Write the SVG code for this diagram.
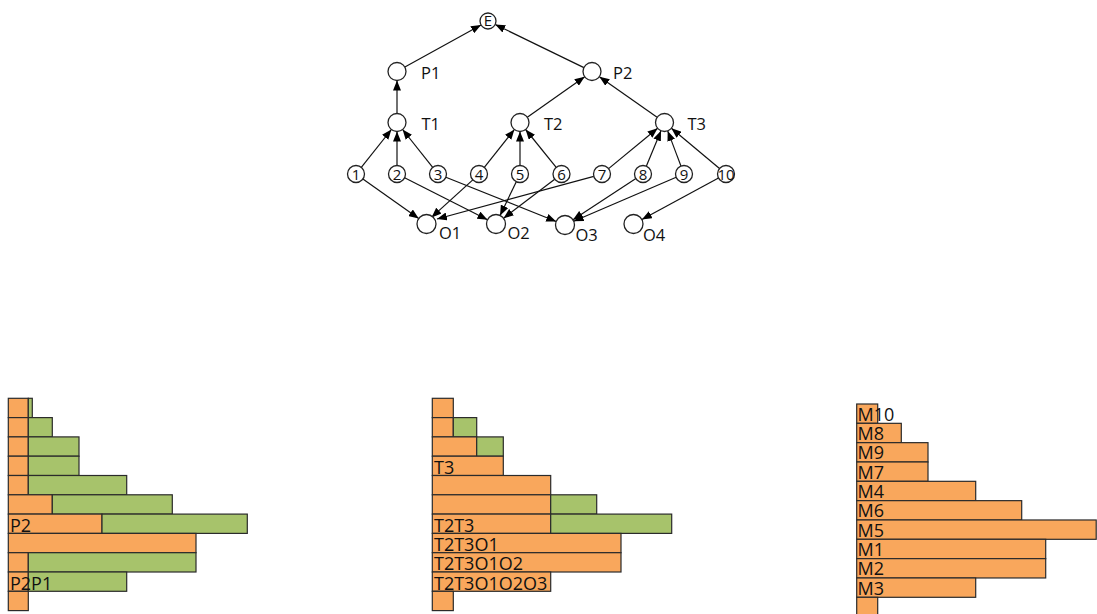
<svg xmlns="http://www.w3.org/2000/svg" width="1097" height="614" viewBox="0 0 1097 614">
<defs>
<marker id="ah" markerUnits="userSpaceOnUse" markerWidth="10" markerHeight="8" refX="10" refY="4" orient="auto">
<path d="M0,0 L10,4 L0,8 z" fill="#000"/>
</marker>
<style>
.n{fill:#fff;stroke:#222;stroke-width:1.3}
.e{stroke:#111;stroke-width:1.2;fill:none;marker-end:url(#ah)}
.lb{font-family:"Open Sans","Noto Sans",sans-serif;font-size:16.5px;fill:#111}
.nm{font-family:"Open Sans","Noto Sans",sans-serif;font-size:15px;fill:#111;text-anchor:middle}
.o{fill:#F9A75C;stroke:#2b2b2b;stroke-width:1.2}
.g{fill:#A7C36B;stroke:#2b2b2b;stroke-width:1.2}
.cl{font-family:"Open Sans","Noto Sans",sans-serif;font-size:18px;fill:#111}
</style>
</defs>
<rect width="1097" height="614" fill="#fff"/>

<g id="connectors">
<line class="e" x1="404.9" y1="67.1" x2="481.0" y2="24.9"/>
<line class="e" x1="583.9" y1="67.6" x2="495.2" y2="24.5"/>
<line class="e" x1="397" y1="113.5" x2="397" y2="80.5"/>
<line class="e" x1="527.3" y1="117.3" x2="584.7" y2="76.7"/>
<line class="e" x1="657.1" y1="117.3" x2="599.4" y2="76.7"/>
<line class="e" x1="361.3" y1="167.3" x2="391.4" y2="129.5"/>
<line class="e" x1="397" y1="165.5" x2="397" y2="131.5"/>
<line class="e" x1="432.7" y1="167.3" x2="402.6" y2="129.5"/>
<line class="e" x1="484.3" y1="167.3" x2="514.4" y2="129.5"/>
<line class="e" x1="520" y1="165.5" x2="520" y2="131.5"/>
<line class="e" x1="556.2" y1="167.3" x2="525.6" y2="129.5"/>
<line class="e" x1="608.6" y1="168.6" x2="657.6" y2="128.2"/>
<line class="e" x1="646.3" y1="166.2" x2="661.0" y2="130.8"/>
<line class="e" x1="681.0" y1="166.1" x2="667.7" y2="130.9"/>
<line class="e" x1="719.5" y1="168.5" x2="671.4" y2="128.3"/>
<line class="e" x1="362.9" y1="178.9" x2="418.7" y2="218.5"/>
<line class="e" x1="404.6" y1="177.8" x2="487.5" y2="219.7"/>
<line class="e" x1="445.9" y1="177.2" x2="556.2" y2="221.5"/>
<line class="e" x1="472.8" y1="179.9" x2="431.5" y2="217.4"/>
<line class="e" x1="516.3" y1="181.7" x2="500.1" y2="215.4"/>
<line class="e" x1="554.7" y1="179.2" x2="503.6" y2="218.2"/>
<line class="e" x1="593.8" y1="176.3" x2="437.0" y2="219.0"/>
<line class="e" x1="635.9" y1="178.6" x2="573.0" y2="219.8"/>
<line class="e" x1="676.2" y1="177.3" x2="573.7" y2="221.3"/>
<line class="e" x1="718.5" y1="178.0" x2="641.9" y2="219.5"/>
</g>

<g id="E"><circle class="n" cx="488" cy="21" r="8"/><text class="nm" x="488" y="26" font-size="14">E</text></g>
<g id="P1"><circle class="n" cx="397" cy="71.5" r="9"/><text class="lb" x="421" y="79">P1</text></g>
<g id="P2"><circle class="n" cx="592" cy="71.5" r="9"/><text class="lb" x="613" y="79">P2</text></g>
<g id="T1"><circle class="n" cx="397" cy="122.5" r="9"/><text class="lb" x="421.5" y="130">T1</text></g>
<g id="T2"><circle class="n" cx="520" cy="122.5" r="9"/><text class="lb" x="544" y="130">T2</text></g>
<g id="T3"><circle class="n" cx="664.5" cy="122.5" r="9"/><text class="lb" x="687.5" y="130">T3</text></g>
<g id="n1"><circle class="n" cx="356" cy="174" r="8.5"/><text class="nm" x="356" y="179.5">1</text></g>
<g id="n2"><circle class="n" cx="397" cy="174" r="8.5"/><text class="nm" x="397" y="179.5">2</text></g>
<g id="n3"><circle class="n" cx="438" cy="174" r="8.5"/><text class="nm" x="438" y="179.5">3</text></g>
<g id="n4"><circle class="n" cx="479" cy="174" r="8.5"/><text class="nm" x="479" y="179.5">4</text></g>
<g id="n5"><circle class="n" cx="520" cy="174" r="8.5"/><text class="nm" x="520" y="179.5">5</text></g>
<g id="n6"><circle class="n" cx="561.5" cy="174" r="8.5"/><text class="nm" x="561.5" y="179.5">6</text></g>
<g id="n7"><circle class="n" cx="602" cy="174" r="8.5"/><text class="nm" x="602" y="179.5">7</text></g>
<g id="n8"><circle class="n" cx="643" cy="174" r="8.5"/><text class="nm" x="643" y="179.5">8</text></g>
<g id="n9"><circle class="n" cx="684" cy="174" r="8.5"/><text class="nm" x="684" y="179.5">9</text></g>
<g id="n10"><circle class="n" cx="726" cy="174" r="8.5"/><text class="nm" x="726" y="179.5">10</text></g>
<g id="O1"><circle class="n" cx="426.5" cy="224" r="9.5"/><text class="lb" x="439" y="238.5">O1</text></g>
<g id="O2"><circle class="n" cx="496" cy="224" r="9.5"/><text class="lb" x="507.5" y="238.5">O2</text></g>
<g id="O3"><circle class="n" cx="565" cy="225" r="9.5"/><text class="lb" x="575.5" y="240.5">O3</text></g>
<g id="O4"><circle class="n" cx="633.5" cy="224" r="9.5"/><text class="lb" x="643" y="240.5">O4</text></g>

<g id="chart-left">
<rect class="o" x="8.3" y="398.3" width="20" height="19.3"/><rect class="g" x="28.3" y="398.3" width="4" height="19.3"/>
<rect class="o" x="8.3" y="417.6" width="20" height="19.3"/><rect class="g" x="28.3" y="417.6" width="24" height="19.3"/>
<rect class="o" x="8.3" y="436.9" width="20" height="19.3"/><rect class="g" x="28.3" y="436.9" width="50.7" height="19.3"/>
<rect class="o" x="8.3" y="456.2" width="20" height="19.3"/><rect class="g" x="28.3" y="456.2" width="50.7" height="19.3"/>
<rect class="o" x="8.3" y="475.5" width="20" height="19.3"/><rect class="g" x="28.3" y="475.5" width="98.4" height="19.3"/>
<rect class="o" x="8.3" y="494.8" width="44" height="19.3"/><rect class="g" x="52.3" y="494.8" width="120" height="19.3"/>
<rect class="o" x="8.3" y="514.1" width="93.7" height="19.3"/><rect class="g" x="102" y="514.1" width="145.3" height="19.3"/>
<rect class="o" x="8.3" y="533.4" width="187.7" height="19.3"/>
<rect class="o" x="8.3" y="552.7" width="20" height="19.3"/><rect class="g" x="28.3" y="552.7" width="167.7" height="19.3"/>
<rect class="o" x="8.3" y="572" width="20" height="19.3"/><rect class="g" x="28.3" y="572" width="98.4" height="19.3"/>
<rect class="o" x="8.3" y="591.3" width="20" height="19.3"/>
<text class="cl" x="10" y="532">P2</text>
<text class="cl" x="10" y="589.5">P2P1</text>
</g>

<g id="chart-middle">
<rect class="o" x="432.3" y="398.3" width="21" height="19.3"/>
<rect class="o" x="432.3" y="417.6" width="21" height="19.3"/><rect class="g" x="453.3" y="417.6" width="23.4" height="19.3"/>
<rect class="o" x="432.3" y="436.9" width="44.4" height="19.3"/><rect class="g" x="476.7" y="436.9" width="26.6" height="19.3"/>
<rect class="o" x="432.3" y="456.2" width="71" height="19.3"/>
<rect class="o" x="432.3" y="475.5" width="118.4" height="19.3"/>
<rect class="o" x="432.3" y="494.8" width="118.4" height="19.3"/><rect class="g" x="550.7" y="494.8" width="46" height="19.3"/>
<rect class="o" x="432.3" y="514.1" width="118.4" height="19.3"/><rect class="g" x="550.7" y="514.1" width="121" height="19.3"/>
<rect class="o" x="432.3" y="533.4" width="188.7" height="19.3"/>
<rect class="o" x="432.3" y="552.7" width="188.7" height="19.3"/>
<rect class="o" x="432.3" y="572" width="118.4" height="19.3"/>
<rect class="o" x="432.3" y="591.3" width="21" height="19.3"/>
<text class="cl" x="434" y="473.5">T3</text>
<text class="cl" x="434" y="532">T2T3</text>
<text class="cl" x="434" y="551">T2T3O1</text>
<text class="cl" x="434" y="570.3">T2T3O1O2</text>
<text class="cl" x="434" y="589.8">T2T3O1O2O3</text>
</g>

<g id="chart-right">
<rect class="o" x="856.7" y="404" width="21" height="19.33"/>
<rect class="o" x="856.7" y="423.33" width="44.6" height="19.33"/>
<rect class="o" x="856.7" y="442.66" width="71.3" height="19.33"/>
<rect class="o" x="856.7" y="461.99" width="71.3" height="19.33"/>
<rect class="o" x="856.7" y="481.32" width="119" height="19.33"/>
<rect class="o" x="856.7" y="500.65" width="165" height="19.33"/>
<rect class="o" x="856.7" y="519.98" width="239.5" height="19.33"/>
<rect class="o" x="856.7" y="539.31" width="189" height="19.33"/>
<rect class="o" x="856.7" y="558.64" width="189" height="19.33"/>
<rect class="o" x="856.7" y="577.97" width="119" height="19.33"/>
<rect class="o" x="856.7" y="597.3" width="21" height="19.33"/>
<text class="cl" x="857.5" y="420.5">M10</text>
<text class="cl" x="857.5" y="439.8">M8</text>
<text class="cl" x="857.5" y="459.2">M9</text>
<text class="cl" x="857.5" y="478.5">M7</text>
<text class="cl" x="857.5" y="497.8">M4</text>
<text class="cl" x="857.5" y="517.2">M6</text>
<text class="cl" x="857.5" y="536.5">M5</text>
<text class="cl" x="857.5" y="555.8">M1</text>
<text class="cl" x="857.5" y="575.2">M2</text>
<text class="cl" x="857.5" y="594.5">M3</text>
</g>
</svg>
